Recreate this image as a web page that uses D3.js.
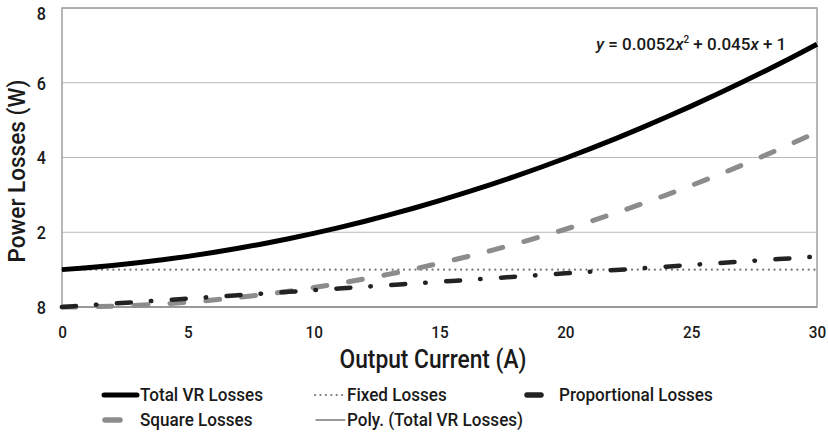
<!DOCTYPE html>
<html>
<head>
<meta charset="utf-8">
<script src="https://cdn.jsdelivr.net/npm/d3@7"></script>
<style>
  html, body { margin: 0; padding: 0; background: #fff; }
  svg { display: block; }
  text { font-family: Roboto, "Liberation Sans", sans-serif; font-weight: 500; fill: #1a1a1a; }
</style>
</head>
<body>
<svg id="chart" width="828" height="433"></svg>
<script>
// Output current (A)
const current = [0,1,2,3,4,5,6,7,8,9,10,11,12,13,14,15,16,17,18,19,20,21,22,23,24,25,26,27,28,29,30];
// Loss components (W)
const fixedLosses = [1,1,1,1,1,1,1,1,1,1,1,1,1,1,1,1,1,1,1,1,1,1,1,1,1,1,1,1,1,1,1];
const proportionalLosses = [0,0.045,0.09,0.135,0.18,0.225,0.27,0.315,0.36,0.405,0.45,0.495,0.54,0.585,0.63,0.675,0.72,0.765,0.81,0.855,0.9,0.945,0.99,1.035,1.08,1.125,1.17,1.215,1.26,1.305,1.35];
const squareLosses = [0,0.0052,0.0208,0.0468,0.0832,0.13,0.1872,0.2548,0.3328,0.4212,0.52,0.6292,0.7488,0.8788,1.0192,1.17,1.3312,1.5028,1.6848,1.8772,2.08,2.2932,2.5168,2.7508,2.9952,3.25,3.5152,3.7908,4.0768,4.3732,4.68];
const totalLosses = [1,1.0502,1.1108,1.1818,1.2632,1.355,1.4572,1.5698,1.6928,1.8262,1.97,2.1242,2.2888,2.4638,2.6492,2.845,3.0512,3.2678,3.4948,3.7322,3.98,4.2382,4.5068,4.7858,5.0752,5.375,5.6852,6.0058,6.3368,6.6782,7.03];
// Polynomial trendline of the total: y = 0.0052x^2 + 0.045x + 1
const polyTotal = [1,1.0502,1.1108,1.1818,1.2632,1.355,1.4572,1.5698,1.6928,1.8262,1.97,2.1242,2.2888,2.4638,2.6492,2.845,3.0512,3.2678,3.4948,3.7322,3.98,4.2382,4.5068,4.7858,5.0752,5.375,5.6852,6.0058,6.3368,6.6782,7.03];

const xTicks = [0,5,10,15,20,25,30];
const yTicks = [0,2,4,6,8];
const yTickLabels = ["8","2","4","6","8"];

const svg = d3.select("#chart");
const x = d3.scaleLinear().domain([0, 30]).range([62, 817]);
const y = d3.scaleLinear().domain([0, 8]).range([307, 8]);

// squeeze a text horizontally to a condensed look
function condense(sel, factor) {
  sel.each(function () {
    const w = this.getComputedTextLength();
    d3.select(this).attr("textLength", w * factor).attr("lengthAdjust", "spacingAndGlyphs");
  });
}

// gridlines
svg.append("g").selectAll("line").data(yTicks.slice(1)).join("line")
  .attr("x1", x(0)).attr("x2", x(30))
  .attr("y1", d => y(d)).attr("y2", d => y(d))
  .attr("stroke", "#b8b8b8").attr("stroke-width", 1);

// plot frame
svg.append("rect")
  .attr("x", x(0)).attr("y", y(8))
  .attr("width", x(30) - x(0)).attr("height", y(0) - y(8))
  .attr("fill", "none").attr("stroke", "#a0a0a0").attr("stroke-width", 1.5);
svg.append("line")
  .attr("x1", x(0)).attr("x2", x(30)).attr("y1", y(0)).attr("y2", y(0))
  .attr("stroke", "#999").attr("stroke-width", 2);

// axes (labels only)
const xAxis = d3.axisBottom(x).tickValues(xTicks).tickSize(0).tickPadding(0);
const gx = svg.append("g").attr("transform", `translate(0,${y(0)})`).call(xAxis);
gx.select(".domain").remove();
gx.selectAll("text").attr("dy", null).attr("y", 31)
  .style("font-size", "17px").style("font-family", null).call(condense, 0.9);

const yAxis = d3.axisLeft(y).tickValues(yTicks).tickSize(0).tickPadding(0)
  .tickFormat((d, i) => yTickLabels[i]);
const gy = svg.append("g").attr("transform", `translate(${x(0)},0)`).call(yAxis);
gy.select(".domain").remove();
gy.selectAll("text").attr("x", -16).attr("dy", "0.35em")
  .attr("y", d => d === 8 ? 5 : null)
  .style("font-size", "18px").style("font-family", null).call(condense, 0.9);

const line = vals => d3.line().x((d, i) => x(current[i])).y(d => y(d)).curve(d3.curveMonotoneX)(vals);

// series
svg.append("path").attr("d", line(fixedLosses))
  .attr("fill", "none").attr("stroke", "#7a7a7a").attr("stroke-width", 2.2)
  .attr("stroke-linecap", "round").attr("stroke-dasharray", "0.1,5.6");

svg.append("path").attr("d", line(squareLosses))
  .attr("fill", "none").attr("stroke", "#8c8c8c").attr("stroke-width", 5)
  .attr("stroke-linecap", "round").attr("stroke-dasharray", "14,22");

svg.append("path").attr("d", line(proportionalLosses))
  .attr("fill", "none").attr("stroke", "#222").attr("stroke-width", 4.5)
  .attr("stroke-linecap", "round").attr("stroke-dasharray", "14,20,0.5,20.5");

svg.append("path").attr("d", line(totalLosses))
  .attr("fill", "none").attr("stroke", "#000").attr("stroke-width", 5);

svg.append("path").attr("d", line(polyTotal))
  .attr("fill", "none").attr("stroke", "#000").attr("stroke-width", 1);

// trendline equation
const eq = svg.append("text").attr("x", 596).attr("y", 50).style("font-size", "17px");
eq.append("tspan").style("font-style", "italic").text("y");
eq.append("tspan").text(" = 0.0052");
eq.append("tspan").style("font-style", "italic").text("x");
eq.append("tspan").attr("dy", -7).style("font-size", "10px").text("2");
eq.append("tspan").attr("dy", 7).text(" + 0.045");
eq.append("tspan").style("font-style", "italic").text("x");
eq.append("tspan").text(" + 1");

// axis titles
svg.append("text").attr("x", 433).attr("y", 368).attr("text-anchor", "middle")
  .style("font-size", "25px").text("Output Current (A)").call(condense, 0.91);
svg.append("text").attr("transform", "translate(25,171) rotate(-90)").attr("text-anchor", "middle")
  .style("font-size", "23px").text("Power Losses (W)").call(condense, 0.98);

// legend
const legend = [
  { name: "Total VR Losses", x1: 104, x2: 137, tx: 140, ty: 395, stroke: "#000", w: 5, dash: null },
  { name: "Fixed Losses", x1: 315, x2: 343, tx: 347, ty: 395, stroke: "#7a7a7a", w: 2.2, dash: "0.1,5.3" },
  { name: "Proportional Losses", x1: 527, x2: 541, tx: 559, ty: 395, stroke: "#222", w: 5.5, dash: null },
  { name: "Square Losses", x1: 105, x2: 120, tx: 140, ty: 420, stroke: "#8c8c8c", w: 5.5, dash: null },
  { name: "Poly. (Total VR Losses)", x1: 316, x2: 345, tx: 347, ty: 420, stroke: "#333", w: 1, dash: null }
];
const lg = svg.append("g").selectAll("g").data(legend).join("g");
lg.append("line")
  .attr("x1", d => d.x1).attr("x2", d => d.x2)
  .attr("y1", d => d.ty).attr("y2", d => d.ty)
  .attr("stroke", d => d.stroke).attr("stroke-width", d => d.w)
  .attr("stroke-linecap", "round")
  .attr("stroke-dasharray", d => d.dash);
lg.append("text").attr("x", d => d.tx).attr("y", d => d.ty).attr("dy", "0.35em")
  .style("font-size", "18px").text(d => d.name).call(condense, 0.95);
</script>
</body>
</html>
